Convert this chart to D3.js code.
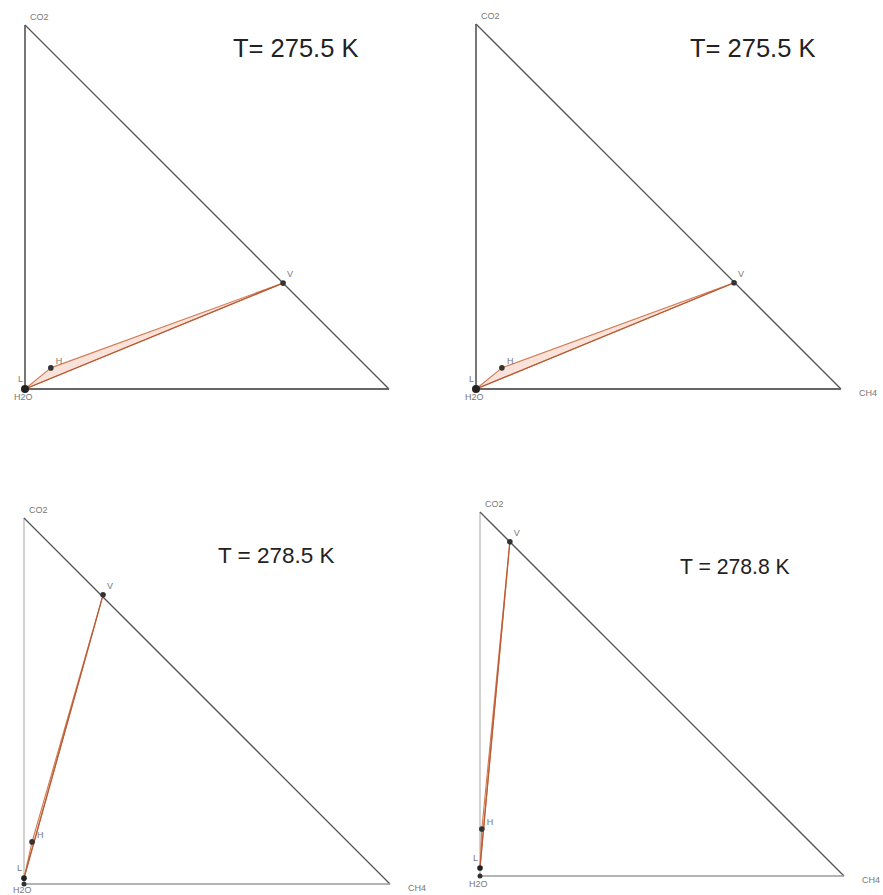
<!DOCTYPE html>
<html>
<head>
<meta charset="utf-8">
<script src="https://cdn.jsdelivr.net/npm/d3@7"></script>
<style>
  html, body { margin: 0; padding: 0; background: #fff; }
  svg { display: block; }
  text { font-family: "Liberation Sans", Arial, sans-serif; }
</style>
</head>
<body>
<svg id="chart" width="883" height="895"></svg>
<script>
// Ternary diagrams for CO2 - CH4 - H2O at four temperatures.
// Compositions are given as [x_CH4, x_CO2]; x_H2O = 1 - x_CH4 - x_CO2.
const titles = ["T= 275.5 K", "T= 275.5 K", "T = 278.5 K", "T = 278.8 K"];
const vapour = [[0.709, 0.291], [0.707, 0.291], [0.216, 0.790], [0.082, 0.918]];
const hydrate = [[0.071, 0.058], [0.071, 0.058], [0.022, 0.115], [0.005, 0.129]];
const liquid = [[0.000, 0.000], [0.000, 0.000], [0.000, 0.016], [0.000, 0.022]];
const vertexNames = ["CO2", "H2O", "CH4"];
const showCH4 = [false, true, true, true];

// Panel frames: left edge, bottom edge, side length (px), title placement
const frames = [
  { left: 25, bottom: 389, side: 364, tx: 233, ty: 57, fs: 25.5, faint: false },
  { left: 476, bottom: 389, side: 365, tx: 690, ty: 57, fs: 25.5, faint: false },
  { left: 24, bottom: 884, side: 366, tx: 218, ty: 563, fs: 22.5, faint: true },
  { left: 480, bottom: 876, side: 364, tx: 680, ty: 574, fs: 21.2, faint: true }
];

const svg = d3.select("#chart");

frames.forEach((f, i) => {
  const x = d3.scaleLinear().domain([0, 1]).range([f.left, f.left + f.side]);
  const y = d3.scaleLinear().domain([0, 1]).range([f.bottom, f.bottom - f.side]);
  const g = svg.append("g");

  const pCO2 = [x(0), y(1)], pH2O = [x(0), y(0)], pCH4 = [x(1), y(0)];

  // triangle edges
  g.append("line").attr("x1", pH2O[0]).attr("y1", pH2O[1]).attr("x2", pCO2[0]).attr("y2", pCO2[1])
    .attr("stroke", f.faint ? "#b4b4b4" : "#555").attr("stroke-width", f.faint ? 1.2 : 1.6);
  g.append("line").attr("x1", pCO2[0]).attr("y1", pCO2[1]).attr("x2", pCH4[0]).attr("y2", pCH4[1])
    .attr("stroke", "#555").attr("stroke-width", 1.3);
  g.append("line").attr("x1", pH2O[0]).attr("y1", pH2O[1]).attr("x2", pCH4[0]).attr("y2", pCH4[1])
    .attr("stroke", f.faint ? "#9a9a9a" : "#666").attr("stroke-width", f.faint ? 1.6 : 2.2);

  // three-phase region L-H-V
  const L = [x(liquid[i][0]), y(liquid[i][1])];
  const H = [x(hydrate[i][0]), y(hydrate[i][1])];
  const V = [x(vapour[i][0]), y(vapour[i][1])];
  g.append("path")
    .attr("d", d3.line()([L, H, V]) + "Z")
    .attr("fill", "#f7ddd3").attr("fill-opacity", 0.85)
    .attr("stroke", "#d07a52").attr("stroke-width", 1.1).attr("stroke-linejoin", "round");
  g.append("line").attr("x1", L[0]).attr("y1", L[1]).attr("x2", V[0]).attr("y2", V[1])
    .attr("stroke", "#b85a34").attr("stroke-width", 1.2);

  // phase points
  g.append("circle").attr("cx", V[0]).attr("cy", V[1]).attr("r", 2.8).attr("fill", "#333");
  g.append("circle").attr("cx", H[0]).attr("cy", H[1]).attr("r", 2.8).attr("fill", "#333");
  g.append("circle").attr("cx", L[0]).attr("cy", L[1]).attr("r", i < 2 ? 4 : 2.8).attr("fill", "#222");
  if (i >= 2) g.append("circle").attr("cx", pH2O[0]).attr("cy", pH2O[1]).attr("r", 2.5).attr("fill", "#333");

  const small = (t, px, py) => g.append("text").attr("x", px).attr("y", py)
    .attr("font-size", 9).attr("fill", "#777").text(t);

  small("V", V[0] + 4, V[1] - 6);
  small("H", H[0] + 5, H[1] - 4);
  small("L", L[0] - 7, L[1] - 7);
  small(vertexNames[0], pCO2[0] + 5, pCO2[1] - 5);
  small(vertexNames[1], pH2O[0] - 11, Math.min(pH2O[1] + 11, 893));
  if (showCH4[i]) small(vertexNames[2], pCH4[0] + 18, pCH4[1] + 7);

  // temperature title
  g.append("text").attr("x", f.tx).attr("y", f.ty)
    .attr("font-size", f.fs).attr("fill", "#222").text(titles[i]);
});
</script>
</body>
</html>
